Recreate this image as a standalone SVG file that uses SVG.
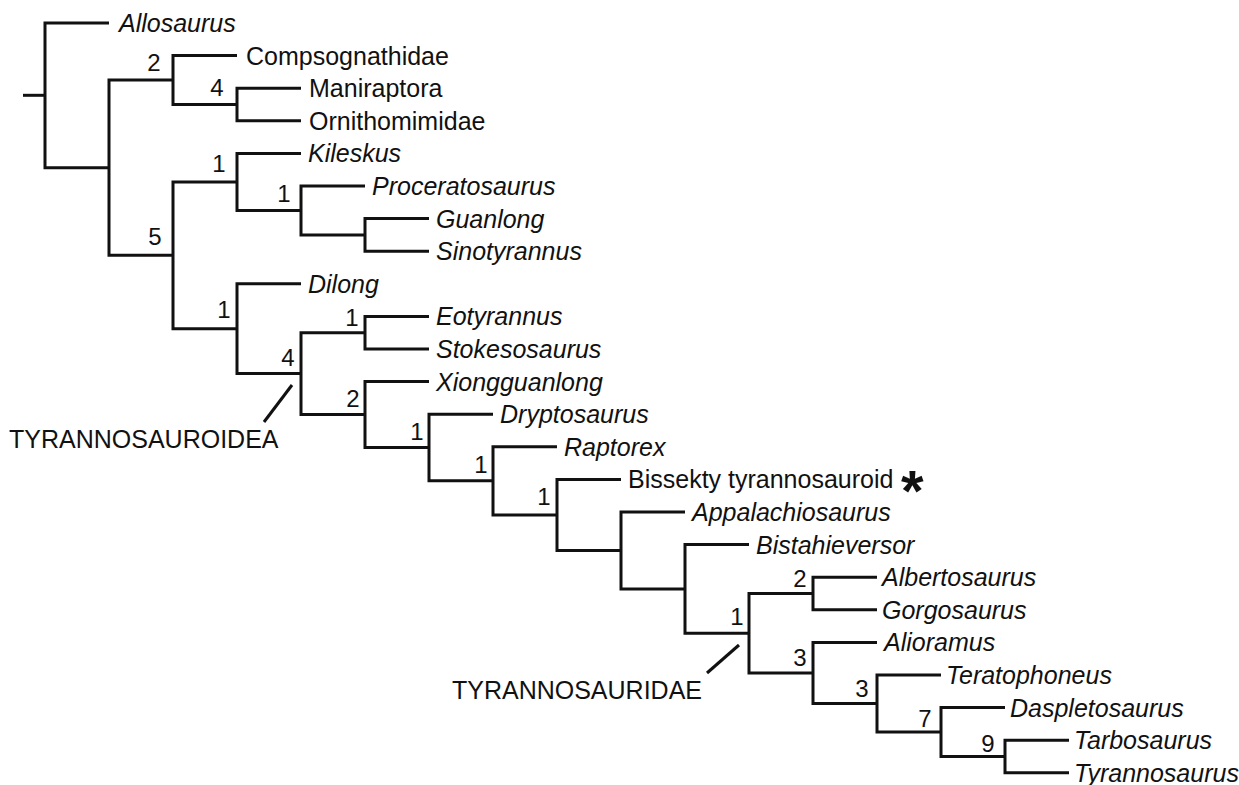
<svg xmlns="http://www.w3.org/2000/svg" width="1239" height="785" viewBox="0 0 1239 785">
<defs>
<style>
.edge path{fill:none;stroke:#111;stroke-width:3;stroke-linejoin:miter;stroke-linecap:butt}
.tick{stroke:#111;stroke-width:1.6;fill:none}
text{font-family:"Liberation Sans",Arial,sans-serif;font-size:25px;fill:#111}
.it{font-style:italic}
.num{font-size:24px;text-anchor:middle}
.clade{font-size:25px}
.star{font-weight:bold;font-size:58px}
</style>
</defs>
<rect width="1239" height="785" fill="#fff"/>
<g id="connectors" class="edge">
<path d="M23 95.3H45"/>
<path d="M109 23H45V167.7H109"/>
<path d="M173 80H109V255.3H173"/>
<path d="M237 55.6H173V104.5H237"/>
<path d="M301 88.2H237V120.8H301"/>
<path d="M237 181.9H173V328.7H237"/>
<path d="M301 153.4H237V210.45H301"/>
<path d="M365 186H301V234.9H365"/>
<path d="M429 218.6H365V251.2H429"/>
<path d="M301 283.8H237V373.6H301"/>
<path d="M365 332.7H301V414.55H365"/>
<path d="M429 316.4H365V349H429"/>
<path d="M429 381.6H365V447.5H429"/>
<path d="M493 414.2H429V480.85H493"/>
<path d="M557 446.8H493V514.9H557"/>
<path d="M621 479.4H557V550.45H621"/>
<path d="M685 512H621V588.9H685"/>
<path d="M749 544.6H685V633.2H749"/>
<path d="M813 593.5H749V672.95H813"/>
<path d="M877 577.2H813V609.8H877"/>
<path d="M877 642.4H813V703.5H877"/>
<path d="M941 675H877V732.05H941"/>
<path d="M1005 707.6H941V756.5H1005"/>
<path d="M1069 740.2H1005V772.8H1069"/>
<path class="tick" d="M264 422L292 385"/>
<path class="tick" d="M707 673L739 645"/>
</g>
<g id="support-labels">
<text class="num" x="154" y="71">2</text>
<text class="num" x="217" y="96">4</text>
<text class="num" x="219" y="172">1</text>
<text class="num" x="284" y="202">1</text>
<text class="num" x="155" y="245">5</text>
<text class="num" x="224" y="318">1</text>
<text class="num" x="288" y="366">4</text>
<text class="num" x="352" y="326">1</text>
<text class="num" x="353" y="407">2</text>
<text class="num" x="417" y="440">1</text>
<text class="num" x="481" y="473">1</text>
<text class="num" x="544" y="505">1</text>
<text class="num" x="737" y="625">1</text>
<text class="num" x="800" y="587">2</text>
<text class="num" x="800" y="666">3</text>
<text class="num" x="862" y="697">3</text>
<text class="num" x="925" y="727">7</text>
<text class="num" x="988" y="752">9</text>
</g>
<g id="clade-tyrannosauroidea"><text class="clade" x="9" y="448">TYRANNOSAUROIDEA</text></g>
<g id="clade-tyrannosauridae"><text class="clade" x="702" y="699" text-anchor="end">TYRANNOSAURIDAE</text></g>
<g id="leaf-allosaurus"><text class="it" x="119" y="32">Allosaurus</text></g>
<g id="leaf-compsognathidae"><text x="246" y="64.6">Compsognathidae</text></g>
<g id="leaf-maniraptora"><text x="309" y="97.2">Maniraptora</text></g>
<g id="leaf-ornithomimidae"><text x="309" y="129.8">Ornithomimidae</text></g>
<g id="leaf-kileskus"><text class="it" x="308" y="162.4">Kileskus</text></g>
<g id="leaf-proceratosaurus"><text class="it" x="372" y="195">Proceratosaurus</text></g>
<g id="leaf-guanlong"><text class="it" x="436" y="227.6">Guanlong</text></g>
<g id="leaf-sinotyrannus"><text class="it" x="436" y="260.2">Sinotyrannus</text></g>
<g id="leaf-dilong"><text class="it" x="308" y="292.8">Dilong</text></g>
<g id="leaf-eotyrannus"><text class="it" x="436" y="325.4">Eotyrannus</text></g>
<g id="leaf-stokesosaurus"><text class="it" x="436" y="358">Stokesosaurus</text></g>
<g id="leaf-xiongguanlong"><text class="it" x="436" y="390.6">Xiongguanlong</text></g>
<g id="leaf-dryptosaurus"><text class="it" x="500" y="423.2">Dryptosaurus</text></g>
<g id="leaf-raptorex"><text class="it" x="564" y="455.8">Raptorex</text></g>
<g id="leaf-bissekty"><text x="628" y="488.4">Bissekty tyrannosauroid</text><text class="star" x="901" y="511">*</text></g>
<g id="leaf-appalachiosaurus"><text class="it" x="692" y="521">Appalachiosaurus</text></g>
<g id="leaf-bistahieversor"><text class="it" x="756" y="553.6">Bistahieversor</text></g>
<g id="leaf-albertosaurus"><text class="it" x="882" y="586.2">Albertosaurus</text></g>
<g id="leaf-gorgosaurus"><text class="it" x="882" y="618.8">Gorgosaurus</text></g>
<g id="leaf-alioramus"><text class="it" x="884" y="651.4">Alioramus</text></g>
<g id="leaf-teratophoneus"><text class="it" x="946" y="684">Teratophoneus</text></g>
<g id="leaf-daspletosaurus"><text class="it" x="1010" y="716.6">Daspletosaurus</text></g>
<g id="leaf-tarbosaurus"><text class="it" x="1074" y="749.2">Tarbosaurus</text></g>
<g id="leaf-tyrannosaurus"><text class="it" x="1074" y="781.8">Tyrannosaurus</text></g>
</svg>
